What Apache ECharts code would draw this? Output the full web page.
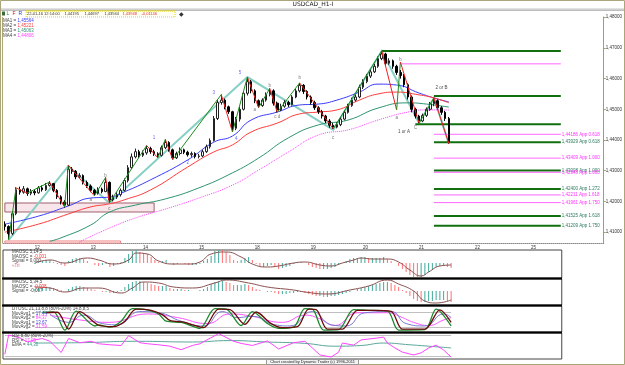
<!DOCTYPE html>
<html>
<head>
<meta charset="utf-8">
<script src="https://cdn.jsdelivr.net/npm/echarts@6/dist/echarts.min.js"></script>
<style>
html, body { margin: 0; padding: 0; background: #fff; }
#main { width: 625px; height: 365px; }
</style>
</head>
<body>
<div id="main"></div>
<script>
var chartDom = document.getElementById('main');
var myChart = echarts.init(chartDom);
var option;

// ---- data (2h bars) ----
let chartTitle = 'USDCAD_H1-I'
let firstOpen = 1.4125
let closes = [
  1.4118,1.4095,1.4160,1.4238,1.4230,1.4241,1.4226,1.4232,1.4228,1.4244,
  1.4238,1.4252,1.4258,1.4236,1.4215,1.4198,1.4188,1.4305,1.4298,1.4280,
  1.4284,1.4262,1.4250,1.4236,1.4226,1.4240,1.4232,1.4262,1.4205,1.4214,
  1.4222,1.4236,1.4268,1.4310,1.4345,1.4362,1.4350,1.4358,1.4372,1.4362,
  1.4355,1.4350,1.4375,1.4392,1.4368,1.4342,1.4356,1.4368,1.4360,1.4352,
  1.4356,1.4346,1.4348,1.4362,1.4378,1.4398,1.4470,1.4522,1.4530,1.4508,
  1.4492,1.4438,1.4468,1.4500,1.4552,1.4590,1.4560,1.4528,1.4512,1.4530,
  1.4548,1.4560,1.4520,1.4498,1.4510,1.4522,1.4515,1.4540,1.4560,1.4578,
  1.4558,1.4540,1.4522,1.4505,1.4492,1.4478,1.4462,1.4448,1.4442,1.4450,
  1.4468,1.4490,1.4512,1.4530,1.4540,1.4572,1.4590,1.4608,1.4622,1.4640,
  1.4665,1.4680,1.4650,1.4658,1.4640,1.4620,1.4610,1.4580,1.4540,1.4500,
  1.4478,1.4462,1.4480,1.4500,1.4518,1.4528,1.4505,1.4490,1.4470,1.4394
]
let highs = [
  1.4135,1.4122,1.4168,1.4246,1.4248,1.4250,1.4245,1.4240,1.4238,1.4250,
  1.4252,1.4260,1.4266,1.4260,1.4240,1.4220,1.4204,1.4318,1.4312,1.4302,
  1.4292,1.4288,1.4268,1.4255,1.4240,1.4246,1.4245,1.4278,1.4265,1.4222,
  1.4230,1.4242,1.4275,1.4318,1.4356,1.4372,1.4368,1.4366,1.4382,1.4378,
  1.4368,1.4360,1.4382,1.4402,1.4396,1.4372,1.4362,1.4376,1.4372,1.4365,
  1.4362,1.4360,1.4355,1.4368,1.4385,1.4405,1.4478,1.4530,1.4548,1.4535,
  1.4512,1.4495,1.4475,1.4508,1.4560,1.4605,1.4595,1.4565,1.4532,1.4536,
  1.4555,1.4568,1.4565,1.4525,1.4518,1.4530,1.4528,1.4546,1.4566,1.4586,
  1.4582,1.4562,1.4545,1.4528,1.4510,1.4498,1.4482,1.4468,1.4455,1.4458,
  1.4475,1.4496,1.4518,1.4538,1.4548,1.4580,1.4598,1.4615,1.4630,1.4648,
  1.4672,1.4690,1.4684,1.4666,1.4662,1.4645,1.4628,1.4615,1.4585,1.4545,
  1.4505,1.4482,1.4486,1.4506,1.4524,1.4537,1.4532,1.4510,1.4495,1.4475
]
let lows = [
  1.4105,1.4078,1.4090,1.4155,1.4222,1.4225,1.4218,1.4220,1.4220,1.4225,
  1.4232,1.4234,1.4248,1.4230,1.4208,1.4190,1.4180,1.4185,1.4290,1.4272,
  1.4275,1.4255,1.4244,1.4230,1.4218,1.4222,1.4226,1.4230,1.4195,1.4200,
  1.4208,1.4216,1.4232,1.4262,1.4305,1.4340,1.4342,1.4345,1.4352,1.4355,
  1.4348,1.4342,1.4346,1.4370,1.4362,1.4336,1.4338,1.4350,1.4354,1.4346,
  1.4345,1.4340,1.4340,1.4344,1.4358,1.4372,1.4395,1.4465,1.4515,1.4500,
  1.4485,1.4426,1.4432,1.4460,1.4496,1.4545,1.4552,1.4520,1.4505,1.4508,
  1.4525,1.4542,1.4512,1.4490,1.4494,1.4505,1.4508,1.4512,1.4536,1.4555,
  1.4550,1.4532,1.4515,1.4498,1.4485,1.4470,1.4455,1.4440,1.4436,1.4438,
  1.4445,1.4464,1.4486,1.4508,1.4525,1.4536,1.4566,1.4585,1.4602,1.4618,
  1.4635,1.4660,1.4642,1.4645,1.4632,1.4612,1.4600,1.4572,1.4532,1.4490,
  1.4470,1.4455,1.4458,1.4475,1.4495,1.4510,1.4498,1.4482,1.4462,1.4388
]

// moving averages [bar, price]
let ma1 = [[0,1.4126],[9,1.4152],[17,1.4185],[23,1.4211],[28,1.4214],[32,1.4231],[39,1.4270],[49,1.4335],[56,1.4393],[61,1.4413],[66,1.4465],[73,1.4491],[79,1.4514],[84,1.4517],[89,1.4530],[95,1.4556],[100,1.4582],[105,1.4579],[111,1.4553],[115,1.4537],[119,1.4524]]
let ma2 = [[0,1.4100],[9,1.4126],[17,1.4159],[23,1.4182],[28,1.4192],[32,1.4205],[39,1.4237],[49,1.4312],[56,1.4361],[61,1.4384],[66,1.4426],[73,1.4455],[79,1.4485],[84,1.4491],[89,1.4498],[95,1.4530],[100,1.4550],[105,1.4556],[111,1.4547],[115,1.4537],[119,1.4521]]
let ma3 = [[12,1.4070],[15,1.4081],[23,1.4123],[28,1.4165],[35,1.4188],[43,1.4208],[52,1.4244],[61,1.4293],[68,1.4341],[76,1.4407],[84,1.4449],[92,1.4465],[100,1.4504],[108,1.4521],[113,1.4517],[119,1.4507]]
let ma4 = [[20,1.4068],[28,1.4113],[35,1.4146],[43,1.4175],[52,1.4211],[61,1.4253],[68,1.4302],[76,1.4361],[84,1.4416],[92,1.4433],[100,1.4465],[108,1.4491],[113,1.4498],[119,1.4498]]
let maNames = ['MA1', 'MA2', 'MA3', 'MA4']
let maValues = ['1,45564', '1,45221', '1,45063', '1,44806']

// swing pivots (thin zigzag) and wave lines (thick)
let zigzag = [[1,1.4074],[3,1.4244],[6,1.4227],[12,1.4263],[16,1.4182],[17,1.4318],[24,1.4218],[27,1.4278],[28,1.4195],[38,1.4382],[41,1.4342],[43,1.4402],[45,1.4336],[58,1.4548],[61,1.4426],[65,1.4605],[68,1.4505],[71,1.4568],[73,1.4490],[79,1.4586],[88,1.4436],[101,1.4690],[105,1.4498],[106,1.4654],[111,1.4455],[115,1.4537],[119,1.4388]]
let waves = [[1,1.4074],[17,1.4315],[28,1.4195],[65,1.4605],[88,1.4433],[101,1.4690],[111,1.4455],[115,1.4537],[119,1.4388]]
let waveLabels = [[23,1.4205,'a'],[27,1.4285,'b'],[28,1.4175,'c'],[40,1.4407,'1'],[49,1.4325,'2'],[56,1.4553,'3'],[62,1.4403,'4'],[63,1.4618,'5'],[67,1.4498,'a'],[71,1.4578,'b'],[73,1.4475,'c d'],[79,1.4602,'b'],[88,1.4407,'c'],[105,1.4472,'a'],[106,1.4660,'b'],[107,1.4426,'1 or A'],[110,1.4439,'C'],[117,1.4569,'2 or B']]

// projection levels
let levelPrice = [1.4690, 1.4648, 1.4543, 1.4451, 1.44186, 1.43929, 1.43409, 1.43008, 1.42948, 1.42400, 1.42211, 1.41961, 1.41525, 1.41209]
let levelFrom = [101, 106, 115, 110, 115, 115, 115, 115, 115, 115, 115, 115, 115, 115]
let levelTo = 149
let levelKind = ['g','m','g','g','m','g','m','g','m','g','m','m','g','g']
let levelText = ['', '', '', '', '1,44186 App 0.618', '1,43929 App 0.618', '1,43409 App 1.000', '1,43008 App 1.000', '1,42948 App 1.000', '1,42400 App 1.272', '1,42211 App 1.618', '1,41961 App 1.750', '1,41525 App 1.618', '1,41209 App 1.750']

// boxes [fromBar, toBar, top, bottom]
let boxes = [[0, 40, 1.41948, 1.41655], [0, 31, 1.40710, 1.40645]]

let priceTicks = [1.41, 1.42, 1.43, 1.44, 1.45, 1.46, 1.47, 1.48]
let dayIdx = [8, 23, 37, 52, 67, 82, 96, 111, 126, 141]
let dayLabels = ['12', '13', '14', '15', '18', '19', '20', '21', '22', '25']

let toolbarText = ['22-01-16 12:14:00', '1,44195', '1,44697', '1,43944', '1,43948', '-0,01146']

// MAOSC 5,14,5
let osc1 = [null,null,null,null,null,null,null,null,
  -1,1,2,3,3,1,-1,-2,-3,2, 4,5,5,4,2,0,-2,-3,-2,-1,
  -4,-3,-1,1,5,9,12,13,11,10, 9,6,3,1,2,3,0,-2,-1,0,
  -1,-2,-2,-2,-1,2,4,7,12,14, 13,11,8,3,2,3,5,6,3,-1,
  -4,-4,-3,-2,-4,-6,-5,-4,-3,-1, 0,1,0,-2,-4,-5,-6,-6,-6,-5,
  -4,-2,0,2,4,5,5,6,6,5, 5,5,5,6,4,2,0,-3,-6,-9,
  -12,-14,-15,-14,-12,-9,-6,-4,-3,-3, -4,-5]
let sig1 = [[8,0],[12,3],[16,0],[22,5],[25,3],[29,-1],[33,3],[35,10],[38,9],[41,2],[45,-1],[49,-1],[52,1],[55,9],[59,11],[63,6],[66,-1],[70,-4],[73,-3],[77,0],[80,1],[84,-2],[87,-3],[90,0],[93,3],[95,5],[98,4],[102,4],[105,1],[108,-7],[111,-13],[113,-9],[116,-3],[119,-2]]
// MAOSC 5,34,5
let osc2 = [null,null,null,null,null,null,null,null,
  2,3,3,4,4,3,2,1,0,2, 4,5,5,4,3,2,1,0,-1,-1,
  -2,-2,-1,1,4,7,9,10,10,9, 8,7,6,5,5,5,3,2,2,2,
  1,1,0,0,1,2,4,7,9,10, 10,9,8,6,6,6,7,6,4,2,
  1,0,-1,-1,-2,-3,-3,-3,-2,-2, -1,-1,-2,-3,-4,-5,-5,-6,-6,-5,
  -5,-4,-3,-2,-1,0,2,3,4,5, 6,7,8,9,9,8,6,4,1,-2,
  -5,-8,-10,-11,-11,-10,-10,-9,-9,-9, -10,-11]
let sig2 = [[8,4],[12,3],[16,-1],[21,3],[25,3],[31,-2],[34,3],[37,9],[41,8],[45,4],[50,3],[56,8],[59,11],[65,8],[70,4],[77,1],[80,-1],[86,-3],[92,1],[97,5],[102,11],[105,7],[109,0],[112,-10],[115,-12],[119,-9]]

// DTOSC
let stoFast = [[10,82],[13,84],[16,8],[19,87],[24,25],[25,30],[28,20],[31,45],[34,97],[38,92],[41,75],[43,45],[47,40],[49,30],[52,15],[56,97],[59,95],[63,27],[66,85],[70,35],[73,15],[77,20],[80,97],[82,95],[85,8],[89,10],[93,93],[97,90],[102,88],[105,8],[112,10],[115,95],[119,25]]
let stoSlow = [[11,80],[14,82],[17,12],[20,85],[25,28],[29,22],[32,45],[35,95],[39,90],[42,72],[44,48],[48,40],[50,30],[53,18],[57,95],[60,93],[64,32],[67,83],[71,35],[74,18],[78,22],[81,95],[83,93],[86,12],[90,12],[94,90],[98,90],[103,86],[106,12],[112,12],[116,92],[119,40]]
let stoAvg1 = [[12,75],[17,40],[21,70],[26,35],[30,30],[36,85],[41,80],[47,45],[53,25],[58,85],[62,60],[66,65],[72,30],[76,25],[82,85],[87,30],[91,25],[96,80],[103,85],[107,35],[112,25],[117,75],[119,60]]
let stoAvg2 = [[12,70],[20,50],[28,40],[38,75],[46,60],[54,35],[60,75],[66,65],[74,40],[80,70],[84,55],[88,27],[94,80],[102,80],[106,60],[109,40],[113,27],[117,50],[119,60]]
let stoBands = [80, 20]

// RSI 8
let rsi = [[0,25],[1,80],[4,72],[6,60],[8,66],[10,70],[12,62],[15,30],[17,70],[20,58],[23,62],[25,55],[28,52],[31,50],[33,78],[36,58],[38,55],[41,52],[44,48],[47,38],[50,50],[52,55],[57,84],[61,62],[63,56],[66,50],[70,63],[73,40],[77,58],[80,62],[82,43],[84,23],[87,17],[89,31],[90,57],[93,51],[95,66],[99,71],[101,74],[102,57],[104,43],[106,31],[109,23],[111,29],[113,43],[115,51],[117,37],[119,17]]
let rsiEma = [[8,57],[20,58],[35,62],[50,60],[60,64],[70,60],[80,56],[88,48],[95,50],[101,57],[108,52],[119,43]]
let rsiBands = [80, 20]

let panelText = [
  ['MAOSC 5,14,5', 'MAOSC = ', '-0,001', 'Signal = ', '0,000'],
  ['MAOSC 5,34,5', 'MAOSC = ', '-0,008', 'Signal = ', '-0,007']
]
let stoText = ['DTOSC 21,13,8,8 (80%-20%) 14,8,8,5', 'MovAvg1 = 17,44', 'MovAvg2 = 84,37', 'MovAvg1 = 13,67', 'MovAvg2 = 31,59']
let rsiText = ['RSI 8,80 (80%-20%)', 'RSI = 17,05', 'EMA = 44,30']
let credit = 'Chart created by Dynamic Trader (c) 1996-2011'

// ---- build ----
const FONT = '"Liberation Sans"'
const FS = 4.5
const nMain = 161, nSub = 149
let mainCats = [], subCats = []
for (let i = 0; i < nMain; i++) mainCats.push(String(i))
for (let i = 0; i < nSub; i++) subCats.push(String(i))

let candles = closes.map((c, i) => [i == 0 ? firstOpen : closes[i - 1], c, lows[i], highs[i]])
let fmt = v => v.toFixed(5).replace('.', ',')

let zigSegs = []
for (let k = 1; k < zigzag.length; k++) {
  let a = zigzag[k - 1], b = zigzag[k]
  zigSegs.push({ coords: [a, b], lineStyle: { color: b[1] > a[1] ? '#1e8c1e' : '#ee2020' } })
}

const GREEN = '#107010', MAG = '#ff66ff'
let levelSeries = levelPrice.map((p, k) => ({
  type: 'line', xAxisIndex: 0, yAxisIndex: 0, silent: true, symbol: 'none', z: 3,
  data: [[levelFrom[k], p], [levelTo, p]],
  lineStyle: { color: levelKind[k] == 'g' ? GREEN : MAG, width: levelKind[k] == 'g' ? 2 : 1 },
  endLabel: {
    show: levelText[k] != '', formatter: levelText[k], distance: 1,
    fontSize: FS, fontFamily: FONT, color: levelKind[k] == 'g' ? '#2a7a5a' : '#ff33ff'
  }
}))

function histColor(arr) {
  return function (p) {
    let i = p.dataIndex
    return (i == 0 || arr[i - 1] == null || arr[i] >= arr[i - 1]) ? '#3fa898' : '#ff6f6f'
  }
}

function bandLines(vals, from, to) {
  return vals.map(v => ({ coords: [[from, v], [to, v]] }))
}

let subGrid = (top, h) => ({ left: 3, top: top, width: 558.75, height: h, show: true, borderColor: '#444', borderWidth: 1, backgroundColor: 'transparent' })
let subX = (g) => ({ gridIndex: g, type: 'category', data: subCats, show: false, boundaryGap: true })
let subY = (g, mn, mx) => ({ gridIndex: g, type: 'value', min: mn, max: mx, show: false, splitLine: { show: false } })

function txt(x, y, text, fill, size, align, family) {
  return { type: 'text', x: x, y: y, silent: true, z: 100,
    style: { text: text, fill: fill || '#333', font: (size || FS) + 'px ' + (family || FONT), textAlign: align || 'left', textVerticalAlign: 'top' } }
}
function richTxt(x, y, k, v, vc) {
  let f = FS + 'px ' + FONT
  return { type: 'text', x: x, y: y, silent: true, z: 100,
    style: { text: '{k|' + k + '}{v|' + v + '}', font: f, textVerticalAlign: 'top',
      rich: { k: { fill: '#444', font: f }, v: { fill: vc, font: f } } } }
}

let maColors = ['#3c3cff', '#ff3c3c', '#2f9470', '#ff44ff']
let graphics = [
  { type: 'rect', silent: true, shape: { x: 0.5, y: 0.5, width: 624, height: 364 }, style: { fill: null, stroke: '#aaa67a', lineWidth: 1 } },
  { type: 'rect', silent: true, shape: { x: 1, y: 8, width: 623, height: 3 },
    style: { fill: new echarts.graphic.LinearGradient(0, 0, 0, 1, [{ offset: 0, color: '#ececec' }, { offset: 1, color: '#b4b4b4' }]) } },
  txt(313, 1.5, chartTitle, '#222', 6, 'center', '"DejaVu Sans"'),
  { type: 'rect', silent: true, shape: { x: 2, y: 11.5, width: 3, height: 4 }, style: { fill: '#3a6a3a' } },
  txt(6.5, 11.4, 'L', '#2a8a2a', 5), txt(12.5, 11.4, 'F', '#c02020', 5), txt(18.5, 11.4, 'R', '#2040c0', 5),
  { type: 'rect', silent: true, shape: { x: 26, y: 11, width: 149, height: 6 }, style: { fill: '#fffff4', stroke: '#e6d400', lineWidth: 1, lineDash: [1, 1] } },
  txt(179, 11, '\u25c6', '#333', 6),
  { type: 'line', silent: true, shape: { x1: 2.5, y1: 17, x2: 2.5, y2: 243 }, style: { stroke: '#aaa67a', lineWidth: 1 } }
]
let tbX = [27, 64.5, 84.5, 104.5, 122.5, 141.5]
toolbarText.forEach((t, k) => graphics.push(txt(tbX[k], 12, t, k >= 4 ? '#e03030' : '#333', 4)))
maNames.forEach((n, k) => graphics.push(richTxt(3, 18 + k * 5, n + ' = ', maValues[k], maColors[k])))
panelText.forEach((p, k) => {
  let y0 = k == 0 ? 249.5 : 279.5
  graphics.push(txt(12, y0, p[0], '#444'))
  graphics.push(richTxt(12, y0 + 4.5, p[1], p[2], '#ff3030'))
  graphics.push(richTxt(12, y0 + 9, p[3], p[4], '#444'))
})
graphics.push(txt(12, 263.5, '\u2248Tri', '#d06080'))
graphics.push(txt(12, 306.5, stoText[0], '#444'))
graphics.push(richTxt(12, 311, 'MovAvg1 = ', stoText[1].split('= ')[1], '#4040d0'))
graphics.push(richTxt(12, 315.5, 'MovAvg2 = ', stoText[2].split('= ')[1], '#ff40ff'))
graphics.push(richTxt(12, 320, 'MovAvg1 = ', stoText[3].split('= ')[1], '#4040d0'))
graphics.push(richTxt(12, 324.5, 'MovAvg2 = ', stoText[4].split('= ')[1], '#ff40ff'))
graphics.push(txt(12, 333.5, rsiText[0], '#444'))
graphics.push(richTxt(12, 338, 'RSI = ', rsiText[1].split('= ')[1], '#ff40ff'))
graphics.push(richTxt(12, 342.5, 'EMA = ', rsiText[2].split('= ')[1], '#3a9a8a'))
;[278.5, 305.5, 332.5].forEach(y => graphics.push({ type: 'line', silent: true, z: 90, shape: { x1: 2, y1: y, x2: 562, y2: y }, style: { stroke: '#000', lineWidth: 2 } }))
graphics.push({ type: 'rect', silent: true, shape: { x: 266.5, y: 359.5, width: 92, height: 5 }, style: { fill: '#f4f4f4', stroke: '#999', lineWidth: 1 } })
graphics.push(txt(312.5, 360, credit, '#222', 4, 'center'))

option = {
  animation: false,
  backgroundColor: '#fff',
  graphic: graphics,
  grid: [
    { left: 3, top: 17, width: 603.75, height: 226 },
    subGrid(250, 28),
    subGrid(279, 26),
    subGrid(306, 26),
    subGrid(333, 26)
  ],
  xAxis: [
    {
      gridIndex: 0, type: 'category', data: mainCats, boundaryGap: true,
      axisLine: { lineStyle: { color: '#888', type: 'dotted' } },
      axisTick: { alignWithLabel: true, interval: (i) => dayIdx.includes(i), length: 3, lineStyle: { color: '#666' } },
      axisLabel: {
        interval: (i) => dayIdx.includes(i), formatter: (v) => dayLabels[dayIdx.indexOf(Number(v))],
        fontSize: FS, fontFamily: FONT, color: '#333', align: 'left', margin: 2
      }
    },
    subX(1), subX(2), subX(3), subX(4)
  ],
  yAxis: [
    {
      gridIndex: 0, type: 'value', position: 'right', min: 1.40645, max: 1.48006,
      axisLine: { show: true, lineStyle: { color: '#a49c6c' } },
      axisTick: { show: true, length: 2, customValues: priceTicks, lineStyle: { color: '#a49c6c' } },
      axisLabel: { customValues: priceTicks, formatter: fmt, fontSize: FS, fontFamily: FONT, color: '#333', margin: 2 },
      splitLine: { show: false }
    },
    subY(1, -15, 13), subY(2, -14, 12), subY(3, 0, 108), subY(4, 11.4, 85.7)
  ],
  series: [
    { type: 'lines', coordinateSystem: 'cartesian2d', xAxisIndex: 0, yAxisIndex: 0, polyline: true, silent: true, z: 1,
      data: [{ coords: waves }], lineStyle: { color: '#86cfc4', width: 2, opacity: 1 } },
    { type: 'line', xAxisIndex: 0, yAxisIndex: 0, data: ma1, smooth: true, symbol: 'none', silent: true, z: 2, lineStyle: { color: maColors[0], width: 1 } },
    { type: 'line', xAxisIndex: 0, yAxisIndex: 0, data: ma2, smooth: true, symbol: 'none', silent: true, z: 2, lineStyle: { color: maColors[1], width: 1 } },
    { type: 'line', xAxisIndex: 0, yAxisIndex: 0, data: ma3, smooth: true, symbol: 'none', silent: true, z: 2, lineStyle: { color: maColors[2], width: 1 } },
    { type: 'line', xAxisIndex: 0, yAxisIndex: 0, data: ma4, smooth: true, symbol: 'none', silent: true, z: 2, lineStyle: { color: maColors[3], width: 1, type: 'dotted' } },
    {
      type: 'candlestick', xAxisIndex: 0, yAxisIndex: 0, data: candles, barWidth: '55%', silent: true, z: 5,
      itemStyle: { color: '#ffffff', color0: '#000000', borderColor: '#222', borderColor0: '#000', borderWidth: 1 },
      markLine: {
        symbol: 'none', silent: true, data: [{ yAxis: closes[closes.length - 1] }],
        lineStyle: { width: 0, opacity: 0 },
        label: { position: 'end', distance: 2, formatter: (p) => fmt(p.value), backgroundColor: '#ffff00', color: '#000', fontSize: FS, fontFamily: FONT, padding: [1, 2] }
      },
      markArea: {
        silent: true,
        data: [
          [{ coord: [boxes[0][0], boxes[0][2]], itemStyle: { color: '#f8e6ea', borderColor: '#a0606e', borderWidth: 1 } }, { coord: [boxes[0][1], boxes[0][3]] }],
          [{ coord: [boxes[1][0], boxes[1][2]], itemStyle: { color: 'rgba(0,0,0,0)', borderColor: '#f08080', borderWidth: 1 } }, { coord: [boxes[1][1], boxes[1][3]] }]
        ]
      }
    },
    { type: 'lines', coordinateSystem: 'cartesian2d', xAxisIndex: 0, yAxisIndex: 0, silent: true, z: 6,
      data: zigSegs, lineStyle: { width: 1, opacity: 1 } },
    {
      type: 'scatter', xAxisIndex: 0, yAxisIndex: 0, silent: true, z: 7, symbolSize: 0,
      data: waveLabels.map(w => ({ value: w, label: { color: /^\d$/.test(w[2]) ? '#4040ff' : (w[2].length > 3 ? '#111' : '#555') } })),
      label: { show: true, position: 'inside', formatter: (p) => p.value[2], fontSize: FS, fontFamily: FONT }
    },
    ...levelSeries,

    { type: 'bar', xAxisIndex: 1, yAxisIndex: 1, data: osc1, barWidth: 1, silent: true, itemStyle: { color: histColor(osc1) } },
    { type: 'line', xAxisIndex: 1, yAxisIndex: 1, data: sig1, smooth: true, symbol: 'none', silent: true, lineStyle: { color: '#8a5050', width: 1 } },
    { type: 'bar', xAxisIndex: 2, yAxisIndex: 2, data: osc2, barWidth: 1, silent: true, itemStyle: { color: histColor(osc2) } },
    { type: 'line', xAxisIndex: 2, yAxisIndex: 2, data: sig2, smooth: true, symbol: 'none', silent: true, lineStyle: { color: '#8a5050', width: 1 } },

    { type: 'lines', coordinateSystem: 'cartesian2d', xAxisIndex: 3, yAxisIndex: 3, silent: true, data: bandLines(stoBands, 8, 119), lineStyle: { color: '#c0c0c0', width: 1, opacity: 1 } },
    { type: 'line', xAxisIndex: 3, yAxisIndex: 3, data: stoAvg2, smooth: true, symbol: 'none', silent: true, lineStyle: { color: '#ff55ff', width: 1 } },
    { type: 'line', xAxisIndex: 3, yAxisIndex: 3, data: stoAvg1, smooth: true, symbol: 'none', silent: true, lineStyle: { color: '#7a7ad0', width: 1 } },
    { type: 'line', xAxisIndex: 3, yAxisIndex: 3, data: stoFast, smooth: 0.3, symbol: 'none', silent: true, lineStyle: { color: '#1a8a2a', width: 1.3 } },
    { type: 'line', xAxisIndex: 3, yAxisIndex: 3, data: stoSlow, smooth: 0.3, symbol: 'none', silent: true, lineStyle: { color: '#6a0a0a', width: 1.3 } },

    { type: 'lines', coordinateSystem: 'cartesian2d', xAxisIndex: 4, yAxisIndex: 4, silent: true, data: bandLines(rsiBands, 0, 119), lineStyle: { color: '#c0c0c0', width: 1, opacity: 1 } },
    { type: 'line', xAxisIndex: 4, yAxisIndex: 4, data: rsiEma, smooth: true, symbol: 'none', silent: true, lineStyle: { color: '#5aa89a', width: 1 } },
    { type: 'line', xAxisIndex: 4, yAxisIndex: 4, data: rsi, symbol: 'none', silent: true, lineStyle: { color: '#ff44ff', width: 1 } }
  ]
};

option && myChart.setOption(option);
</script>
</body>
</html>
